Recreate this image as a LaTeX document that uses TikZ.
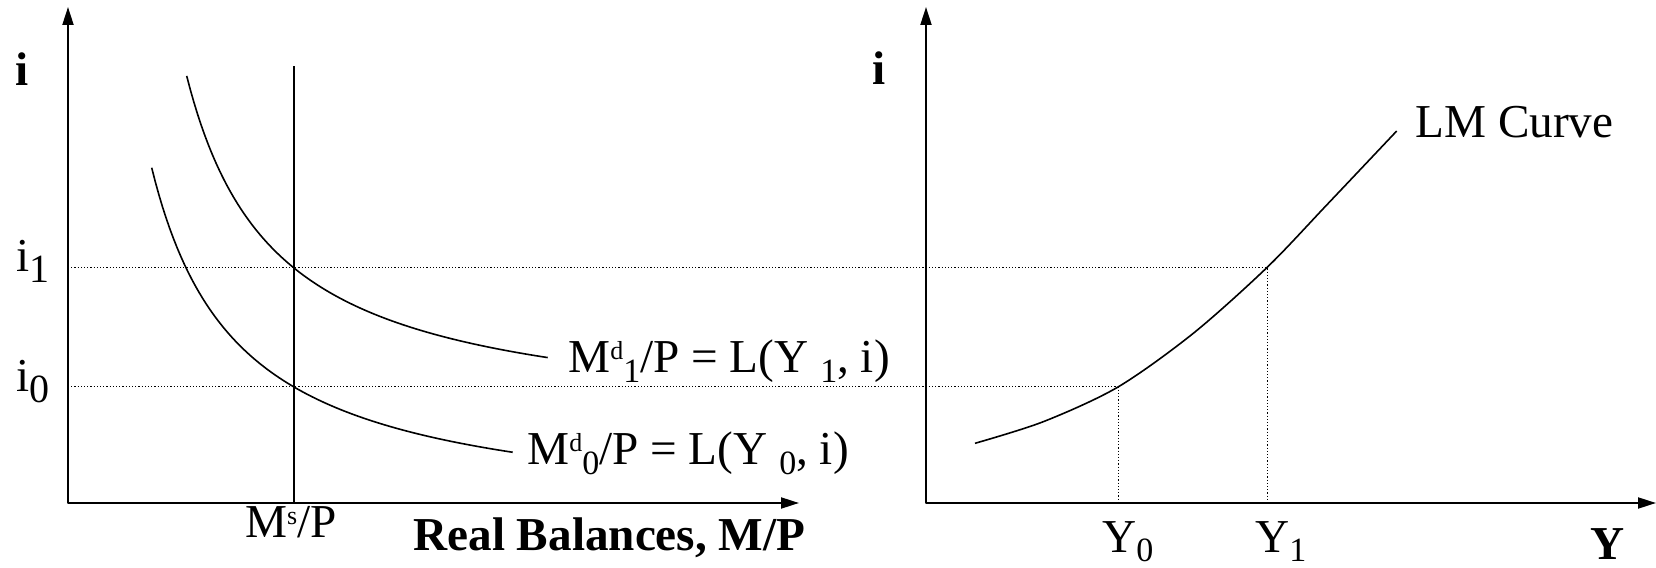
\documentclass[tikz,border=0pt]{standalone}
\usepackage{fontspec}
\setmainfont{Liberation Serif}
\usetikzlibrary{arrows.meta}
\newcommand{\lowsub}[1]{\raisebox{-5.5pt}{\fontsize{20}{24}\selectfont #1}}
\newcommand{\dnsub}[1]{\raisebox{-5pt}{\fontsize{17}{20}\selectfont #1}}
\newcommand{\upsup}[1]{\raisebox{6.5pt}{\fontsize{13}{15}\selectfont #1}}

\begin{document}
\begin{tikzpicture}[x=0.5pt, y=0.5pt, font=\fontsize{23.6}{28}\selectfont, line join=round,
	>={Triangle[length=9pt,width=5.5pt]},
	axis/.style={line width=1pt, <->},
	curve/.style={line width=0.8pt},
	guide/.style={line width=0.5pt, dash pattern=on 0.6pt off 1pt},
	lbl/.style={inner sep=0pt, anchor=base west}]
	\useasboundingbox (0,0) rectangle (1656,568);
	
	% Các điểm chính
	\coordinate (T1) at (68,561);
	\coordinate (O1) at (68,65);
	\coordinate (X1) at (799,65);
	\coordinate (T2) at (926,561);
	\coordinate (O2) at (926,65);
	\coordinate (X2) at (1656,65);
	\coordinate (MsTop) at (294,502);
	\coordinate (MsBot) at (294,65);
	\coordinate (A1) at (68,300.5);
	\coordinate (A0) at (68,181);
	\coordinate (E1) at (1267,300.5);
	\coordinate (E0) at (1118,181);
	\coordinate (B1) at (1267,65);
	\coordinate (B0) at (1118,65);
	
	% Đường gióng nét chấm
	\draw[guide] (A1) -- (E1) -- (B1);
	\draw[guide] (A0) -- (E0) -- (B0);
	
	% Hệ trục
	\draw[axis] (T1) -- (O1) -- (X1);
	\draw[axis] (T2) -- (O2) -- (X2);
	
	% Cung tiền
	\draw[line width=1pt] (MsBot) -- (MsTop);
	
	% Cầu tiền
	\draw[curve, domain=186.7:547.7, samples=100] plot (\x, {141.2 + 311.25/((\x-98)/100)});
	\draw[curve, domain=151.7:512.7, samples=100] plot (\x, {47.4 + 305.94/((\x-65)/100)});
	
	% Đường LM
	\draw[curve] plot[smooth] coordinates {(975,124.7) (1043.3,146.3) (1118,181) (1193.3,234.7) (1267,300.5) (1326.7,363) (1396.7,437)};
	
	% Nhãn
	\node[lbl, font=\fontsize{23.6}{28}\selectfont\bfseries] (iL) at (15,482) {i};
	\node[lbl, font=\fontsize{23.6}{28}\selectfont\bfseries] (iR) at (872,483) {i};
	\node[inner sep=0pt, anchor=base east] (i1) at (50,296) {i\lowsub{1}};
	\node[inner sep=0pt, anchor=base east] (i0) at (50,176) {i\lowsub{0}};
	\node[inner sep=0pt, anchor=base] (ms) at (291,30) {M\upsup{s}/P};
	\node[lbl] (rb) at (413,18) {\textbf{Real Balances, M/P}};
	\node[lbl] (md1) at (568,195) {M\upsup{d}\dnsub{1}/P = L(Y \dnsub{1}, i)};
	\node[lbl] (md0) at (527,103) {M\upsup{d}\dnsub{0}/P = L(Y \dnsub{0}, i)};
	\node[lbl] (lm) at (1415,430) {LM Curve};
	\node[lbl] (y0) at (1102,16) {Y\dnsub{0}};
	\node[lbl] (y1) at (1255,16) {Y\dnsub{1}};
	\node[lbl, font=\fontsize{23.6}{28}\selectfont\bfseries] (yb) at (1590,8) {Y};
\end{tikzpicture}
\end{document}
